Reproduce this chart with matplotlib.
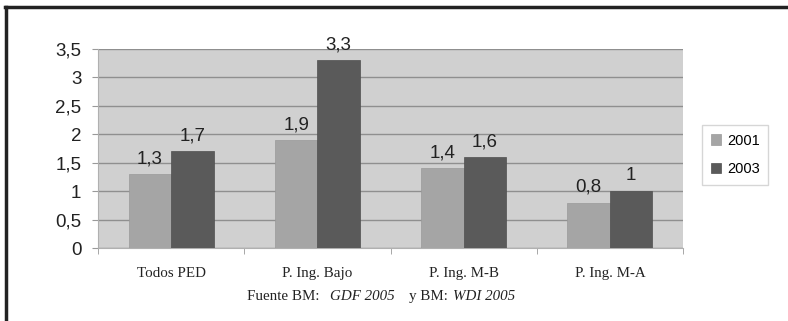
import numpy as np
import matplotlib.pyplot as plt
from matplotlib.lines import Line2D

# Chart data
categories = ['Todos PED', 'P. Ing. Bajo', 'P. Ing. M-B', 'P. Ing. M-A']
values_2001 = [1.3, 1.9, 1.4, 0.8]
values_2003 = [1.7, 3.3, 1.6, 1.0]
series_names = ['2001', '2003']
y_ticks = [0, 0.5, 1, 1.5, 2, 2.5, 3, 3.5]
y_tick_labels = ['0', '0,5', '1', '1,5', '2', '2,5', '3', '3,5']

sans = 'Liberation Sans'
serif = 'Liberation Serif'

fig = plt.figure(figsize=(7.88, 3.21), dpi=100)
fig.patch.set_facecolor('white')

ax = fig.add_axes([0.1244, 0.2274, 0.7424, 0.62])
ax.set_facecolor('#d0d0d0')

x = np.arange(len(categories))
width = 0.29
bars1 = ax.bar(x - width / 2, values_2001, width, color='#a5a5a5', edgecolor='#999999',
               linewidth=0.5, label=series_names[0], zorder=3)
bars2 = ax.bar(x + width / 2, values_2003, width, color='#5a5a5a', edgecolor='#505050',
               linewidth=0.5, label=series_names[1], zorder=3)

# Value labels with comma decimals
for bars, vals in [(bars1, values_2001), (bars2, values_2003)]:
    for b, v in zip(bars, vals):
        txt = ('%g' % v).replace('.', ',')
        ax.annotate(txt, (b.get_x() + b.get_width() / 2, v), xytext=(0, 5),
                    textcoords='offset points', ha='center', va='bottom',
                    fontsize=13.5, family=sans, color='#222222')

ax.set_xlim(-0.5, len(categories) - 0.5)
ax.set_ylim(0, 3.5)
ax.set_yticks(y_ticks)
ax.set_yticklabels(y_tick_labels, fontsize=13.5, family=sans, color='#222222')
ax.yaxis.grid(True, color='#8f8f8f', linewidth=1.0, zorder=1)
ax.set_axisbelow(True)

# category labels centered, tick marks between groups
ax.set_xticks(x)
ax.set_xticklabels(categories, fontsize=10.8, family=serif, color='#222222')
ax.tick_params(axis='x', length=0, pad=14)
ax.set_xticks(np.arange(-0.5, len(categories)), minor=True)
ax.tick_params(axis='x', which='minor', length=4, color='#999999')
ax.tick_params(axis='y', length=4, color='#999999', pad=8)

for s in ['top', 'right']:
    ax.spines[s].set_visible(False)
ax.spines['left'].set_color('#b0b0b0')
ax.spines['bottom'].set_color('#b0b0b0')

leg = ax.legend(loc='upper left', bbox_to_anchor=(1.02, 0.655), frameon=True,
                fancybox=False, prop={'family': sans, 'size': 10.5},
                handlelength=0.7, handleheight=0.7, handletextpad=0.4,
                labelspacing=1.0, borderpad=0.6)
leg.get_frame().set_edgecolor('#cccccc')
leg.get_frame().set_linewidth(1.0)

# Source line with italic parts
fs = 10.8
t1 = fig.text(0.313, 0.055, 'Fuente BM:', fontsize=fs, family=serif, color='#222222',
              va='bottom')
t2 = ax.annotate('GDF 2005', xy=(1, 0), xycoords=t1, xytext=(8, 0),
                 textcoords='offset points', fontsize=fs, family=serif, va='bottom',
                 style='italic', color='#222222', annotation_clip=False)
t3 = ax.annotate('y BM:', xy=(1, 0), xycoords=t2, xytext=(10, 0),
                 textcoords='offset points', fontsize=fs, family=serif, va='bottom',
                 color='#222222', annotation_clip=False)
t4 = ax.annotate('WDI 2005', xy=(1, 0), xycoords=t3, xytext=(4, 0),
                 textcoords='offset points', fontsize=fs, family=serif, va='bottom',
                 style='italic', color='#222222', annotation_clip=False)

# Frame lines on left and top
fig.add_artist(Line2D([6 / 788, 6 / 788], [0, 1 - 7 / 321], color='#222222', linewidth=2.5))
fig.add_artist(Line2D([5 / 788, 1], [1 - 7 / 321, 1 - 7 / 321], color='#222222', linewidth=2.5))

fig.savefig('out.png', dpi=100)
